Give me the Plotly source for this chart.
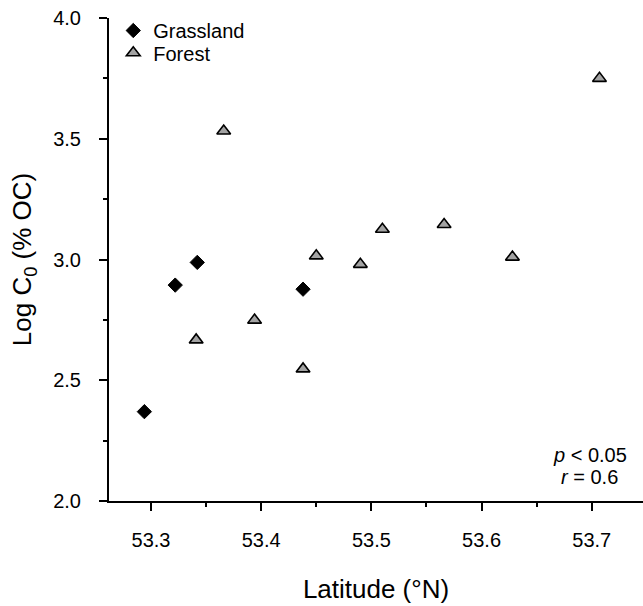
import plotly.graph_objects as go

grass_lat = [53.294, 53.322, 53.342, 53.438]
grass_logc = [2.37, 2.894, 2.988, 2.877]

forest_lat = [53.341, 53.366, 53.394, 53.438, 53.450, 53.490, 53.510, 53.566, 53.628, 53.707]
forest_logc = [2.667, 3.532, 2.749, 2.547, 3.015, 2.980, 3.125, 3.145, 3.010, 3.750]

x_ticks = [53.3, 53.4, 53.5, 53.6, 53.7]
y_ticks = [2.0, 2.5, 3.0, 3.5, 4.0]

FONT = "Arial, Liberation Sans, sans-serif"

fig = go.Figure()
fig.add_trace(go.Scatter(
    x=grass_lat, y=grass_logc, mode="markers", name="Grassland",
    legend="legend",
    marker=dict(symbol="diamond", size=11, color="black",
                line=dict(color="black", width=1)),
    cliponaxis=False,
))
fig.add_trace(go.Scatter(
    x=forest_lat, y=forest_logc, mode="markers", name="Forest",
    legend="legend2",
    marker=dict(symbol="triangle-up", size=12, color="#a3a3a3",
                line=dict(color="black", width=1.6)),
    cliponaxis=False,
))

legend_common = dict(xanchor="left", yanchor="top", bgcolor="rgba(0,0,0,0)",
                     font=dict(size=20), itemwidth=30)

fig.update_layout(
    width=643, height=606,
    margin=dict(l=109, r=0, t=18, b=105),
    paper_bgcolor="white", plot_bgcolor="white",
    font=dict(family=FONT, size=20, color="black"),
    showlegend=True,
    legend=dict(x=0.008, y=1.0145, **legend_common),
    legend2=dict(x=0.008, y=0.9683, **legend_common),
    xaxis=dict(
        range=[53.2619, 53.7465], tickvals=x_ticks,
        ticktext=[f"{v:.1f}" for v in x_ticks],
        showgrid=False, zeroline=False, showline=True,
        linecolor="black", linewidth=2,
        ticks="outside", ticklen=8, tickwidth=2, tickcolor="black",
        ticklabelstandoff=12,
        minor=dict(dtick=0.05, tick0=53.25, ticks="outside", ticklen=4,
                   tickwidth=1.5, tickcolor="black", showgrid=False),
        title=dict(text="Latitude (°N)", font=dict(size=26), standoff=30),
    ),
    yaxis=dict(
        range=[2.0, 4.0], tickvals=y_ticks,
        ticktext=[f"{v:.1f}" for v in y_ticks],
        showgrid=False, zeroline=False, showline=True,
        linecolor="black", linewidth=2,
        ticks="outside", ticklen=8, tickwidth=2, tickcolor="black",
        ticklabelstandoff=14,
        minor=dict(dtick=0.25, tick0=2.0, ticks="outside", ticklen=4,
                   tickwidth=1.5, tickcolor="black", showgrid=False),
        title=dict(text="Log C<sub>0</sub> (% OC)", font=dict(size=26), standoff=14),
    ),
)

fig.add_annotation(x=0.9007, y=0.0952, xref="paper", yref="paper",
                   text="<i>p</i> < 0.05", showarrow=False,
                   xanchor="center", yanchor="middle", font=dict(size=20))
fig.add_annotation(x=0.9007, y=0.0497, xref="paper", yref="paper",
                   text="<i>r</i> = 0.6", showarrow=False,
                   xanchor="center", yanchor="middle", font=dict(size=20))

fig.write_html("out.html")
